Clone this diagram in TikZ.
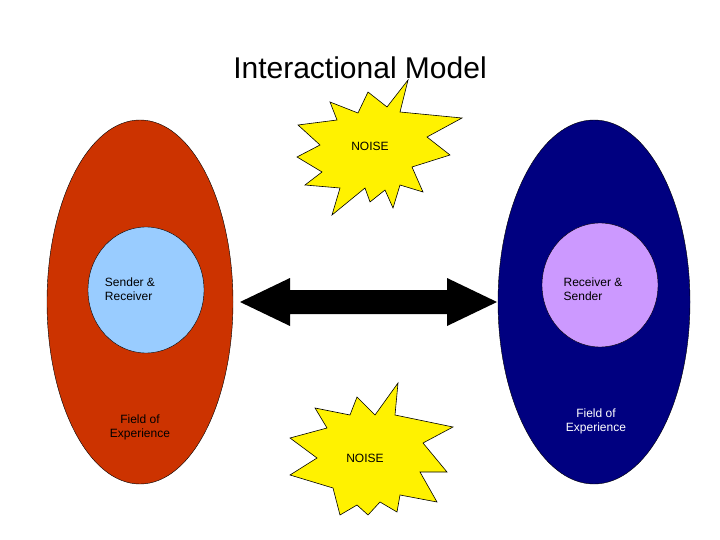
\documentclass[tikz,border=0pt]{standalone}
\usepackage{fontspec}
\setmainfont{Liberation Sans}
\begin{document}
\begin{tikzpicture}[x=1pt,y=-1pt,
  lbl/.style={font=\fontsize{12}{14}\selectfont,align=left},
  burst/.style={draw=black,fill=yellow,line width=0.6pt,line join=miter}]
\useasboundingbox (0,0) rectangle (720,540);
\node (title) at (360,68) {\fontsize{30}{34}\selectfont Interactional Model};
\draw[fill=red!70!black!90!orange,fill={rgb,255:red,204;green,51;blue,0}] (140,302) ellipse [x radius=93,y radius=182];
\draw[fill={rgb,255:red,0;green,0;blue,128}] (594,302) ellipse [x radius=96,y radius=182];
\draw[fill={rgb,255:red,153;green,204;blue,255}] (146,290) ellipse [x radius=58,y radius=63];
\draw[fill={rgb,255:red,204;green,153;blue,255}] (600,285) ellipse [x radius=58,y radius=62];
\node[lbl] (sr) at (130,289) {Sender \&\\Receiver};
\node[lbl] (rs) at (593,289) {Receiver \&\\Sender};
\node[lbl,align=center] (f1) at (140,427) {Field of\\Experience};
\node[lbl,align=center,text=white] (f2) at (596,421) {Field of\\Experience};
\fill (240,302) -- (290,278) -- (290,290) -- (447,290) -- (447,278) -- (497,302) -- (447,326) -- (447,314) -- (290,314) -- (290,326) -- cycle;
\node[lbl] (comm) at (369,302) {Communication};
\draw[burst] (408,80)--(400,112)--(462,118)--(427,137)--(450,155)--(412,167)--(423,192)--(400,185)--(393,208)--(385,190)--(370,202)--(365,188)--(332,215)--(340,188)--(305,185)--(322,172)--(297,157)--(320,145)--(298,125)--(337,120)--(330,102)--(358,113)--(368,92)--(387,107)--cycle;
\node[lbl] (n1) at (370,146) {NOISE};
\draw[burst] (398,383)--(395,415)--(453,427)--(423,443)--(447,472)--(420,472)--(437,502)--(400,495)--(397,512)--(380,502)--(368,515)--(357,505)--(340,515)--(333,488)--(290,475)--(317,458)--(290,438)--(327,428)--(315,408)--(350,415)--(357,397)--(375,415)--cycle;
\node[lbl] (n2) at (365,458) {NOISE};
\end{tikzpicture}
\end{document}
